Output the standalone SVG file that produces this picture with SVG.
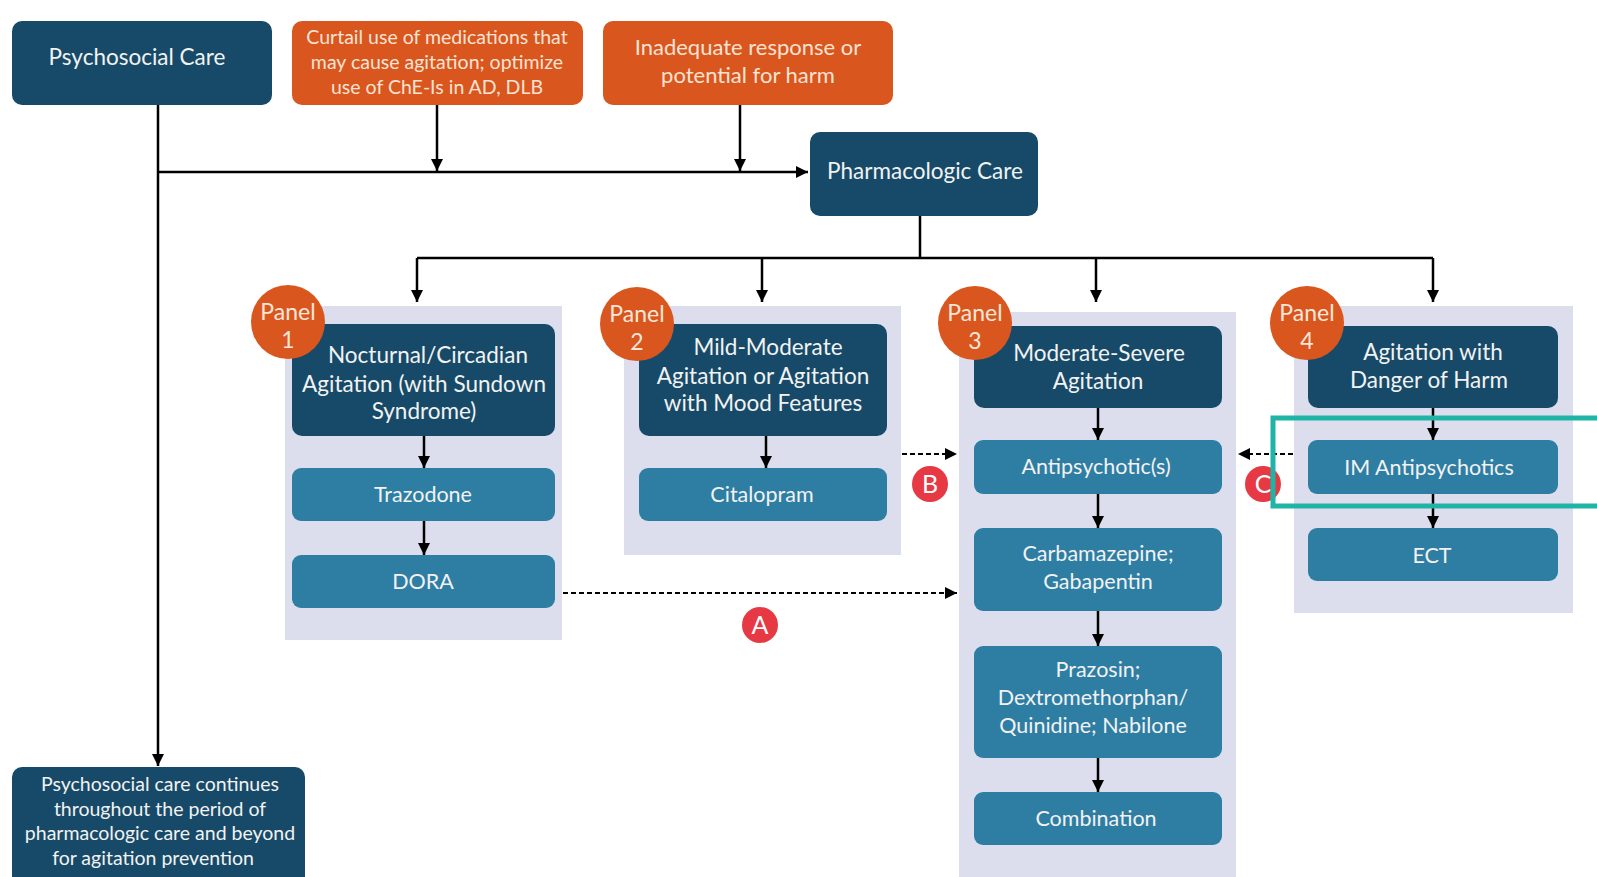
<svg xmlns="http://www.w3.org/2000/svg" width="1597" height="877" viewBox="0 0 1597 877">
<style>
.dark{fill:#174a68}
.mid{fill:#2e7ea4}
.org{fill:#d9561f}
.pbg{fill:#dcdeed}
.t{font-family:Lato,"Open Sans","Liberation Sans",sans-serif;fill:#f2f2f2;text-anchor:middle}
.to{font-family:Lato,"Open Sans","Liberation Sans",sans-serif;fill:#fde3d3;text-anchor:middle;font-size:19.5px}
.f20{font-size:22.5px}
.f19{font-size:21.5px}
.f22{font-size:22px}
.f17{font-size:19.5px}
.ln{stroke:#000;stroke-width:2.5;fill:none}
.ar{marker-end:url(#ah)}
.ds{stroke:#000;stroke-width:2;fill:none;stroke-dasharray:5 3;marker-end:url(#ah)}
.pc{fill:#d9561f}
.pt{font-family:Lato,"Open Sans","Liberation Sans",sans-serif;fill:#fbe6da;text-anchor:middle;font-size:23px}
.lc{fill:#e63943}
.lt{font-family:Lato,"Open Sans","Liberation Sans",sans-serif;fill:#fff;text-anchor:middle;font-size:25px}
</style>
<defs>
<marker id="ah" viewBox="0 0 10 10" refX="10" refY="5" markerWidth="12" markerHeight="12" markerUnits="userSpaceOnUse" orient="auto">
<path d="M0,0 L10,5 L0,10 z" fill="#000"/>
</marker>
</defs>
<rect width="1597" height="877" fill="#fff"/>

<g id="panel-backgrounds">
<rect class="pbg" x="285" y="306" width="277" height="334"/>
<rect class="pbg" x="624" y="306" width="277" height="249"/>
<rect class="pbg" x="959" y="312" width="277" height="570"/>
<rect class="pbg" x="1294" y="306" width="279" height="307"/>
</g>

<g id="connectors">
<path class="ln ar" d="M158,105 V766"/>
<path class="ln ar" d="M158,172 H808"/>
<path class="ln ar" d="M437,105 V171"/>
<path class="ln ar" d="M740,105 V171"/>
<path class="ln" d="M920,216 V258"/>
<path class="ln" d="M417,258 H1433"/>
<path class="ln ar" d="M417,258 V302"/>
<path class="ln ar" d="M762,258 V302"/>
<path class="ln ar" d="M1096,258 V302"/>
<path class="ln ar" d="M1433,258 V302"/>
<path class="ln ar" d="M424,436 V468"/>
<path class="ln ar" d="M424,521 V555"/>
<path class="ln ar" d="M766,436 V468"/>
<path class="ln ar" d="M1098,408 V440"/>
<path class="ln ar" d="M1098,494 V528"/>
<path class="ln ar" d="M1098,611 V646"/>
<path class="ln ar" d="M1098,758 V792"/>
<path class="ln ar" d="M1433,408 V440"/>
<path class="ln ar" d="M1433,494 V528"/>
<path class="ds" d="M563,593 H957"/>
<path class="ds" d="M902,454 H957"/>
<path class="ds" d="M1293,454 H1238"/>
</g>

<g id="psychosocial-care">
<rect class="dark" x="12" y="21" width="260" height="84" rx="10"/>
<text class="t f20" x="137" y="65">Psychosocial Care</text>
</g>
<g id="curtail">
<rect class="org" x="292" y="21" width="291" height="84" rx="10"/>
<text class="to" x="437" y="44">Curtail use of  medications that</text>
<text class="to" x="437" y="69">may cause agitation; optimize</text>
<text class="to" x="437" y="94">use of ChE-Is in AD, DLB</text>
</g>
<g id="inadequate">
<rect class="org" x="603" y="21" width="290" height="84" rx="10"/>
<text class="t f22" x="748" y="55" style="fill:#fde3d3">Inadequate response or</text>
<text class="t f22" x="748" y="83" style="fill:#fde3d3">potential for harm</text>
</g>
<g id="pharmacologic-care">
<rect class="dark" x="810" y="132" width="228" height="84" rx="10"/>
<text class="t f20" x="925" y="179">Pharmacologic  Care</text>
</g>

<g id="panel1-header">
<rect class="dark" x="292" y="324" width="263" height="112" rx="10"/>
<text class="t f20" x="428" y="363">Nocturnal/Circadian</text>
<text class="t f20" x="424" y="392">Agitation (with Sundown</text>
<text class="t f20" x="424" y="419">Syndrome)</text>
</g>
<g id="panel1-badge">
<circle class="pc" cx="288" cy="322" r="37"/>
<text class="pt" x="288" y="320">Panel</text>
<text class="pt" x="288" y="348">1</text>
</g>
<g id="trazodone">
<rect class="mid" x="292" y="468" width="263" height="53" rx="9"/>
<text class="t f19" x="423" y="502">Trazodone</text>
</g>
<g id="dora">
<rect class="mid" x="292" y="555" width="263" height="53" rx="9"/>
<text class="t f19" x="423" y="589">DORA</text>
</g>

<g id="panel2-header">
<rect class="dark" x="639" y="324" width="248" height="112" rx="10"/>
<text class="t f20" x="768" y="355">Mild-Moderate</text>
<text class="t f20" x="763" y="384">Agitation or Agitation</text>
<text class="t f20" x="763" y="411">with Mood Features</text>
</g>
<g id="panel2-badge">
<circle class="pc" cx="637" cy="324" r="37"/>
<text class="pt" x="637" y="322">Panel</text>
<text class="pt" x="637" y="350">2</text>
</g>
<g id="citalopram">
<rect class="mid" x="639" y="468" width="248" height="53" rx="9"/>
<text class="t f19" x="762" y="502">Citalopram</text>
</g>

<g id="panel3-header">
<rect class="dark" x="974" y="326" width="248" height="82" rx="10"/>
<text class="t f20" x="1099" y="361">Moderate-Severe</text>
<text class="t f20" x="1098" y="389">Agitation</text>
</g>
<g id="panel3-badge">
<circle class="pc" cx="975" cy="323" r="37"/>
<text class="pt" x="975" y="321">Panel</text>
<text class="pt" x="975" y="349">3</text>
</g>
<g id="antipsychotics">
<rect class="mid" x="974" y="440" width="248" height="54" rx="9"/>
<text class="t f19" x="1096" y="474">Antipsychotic(s)</text>
</g>
<g id="carbamazepine">
<rect class="mid" x="974" y="528" width="248" height="83" rx="9"/>
<text class="t f19" x="1098" y="561">Carbamazepine;</text>
<text class="t f19" x="1098" y="589">Gabapentin</text>
</g>
<g id="prazosin">
<rect class="mid" x="974" y="646" width="248" height="112" rx="9"/>
<text class="t f19" x="1098" y="677">Prazosin;</text>
<text class="t f19" x="1093" y="705">Dextromethorphan/</text>
<text class="t f19" x="1093" y="733">Quinidine; Nabilone</text>
</g>
<g id="combination">
<rect class="mid" x="974" y="792" width="248" height="53" rx="9"/>
<text class="t f19" x="1096" y="826">Combination</text>
</g>

<g id="panel4-header">
<rect class="dark" x="1308" y="326" width="250" height="82" rx="10"/>
<text class="t f20" x="1433" y="360">Agitation with</text>
<text class="t f20" x="1429" y="388">Danger of Harm</text>
</g>
<g id="panel4-badge">
<circle class="pc" cx="1307" cy="323" r="37"/>
<text class="pt" x="1307" y="321">Panel</text>
<text class="pt" x="1307" y="349">4</text>
</g>
<g id="im-antipsychotics">
<rect class="mid" x="1308" y="440" width="250" height="54" rx="9"/>
<text class="t f19" x="1429" y="475">IM Antipsychotics</text>
</g>
<g id="ect">
<rect class="mid" x="1308" y="528" width="250" height="53" rx="9"/>
<text class="t f19" x="1432" y="563">ECT</text>
</g>

<g id="label-a">
<circle class="lc" cx="760" cy="625" r="18"/>
<text class="lt" x="760" y="634">A</text>
</g>
<g id="label-b">
<circle class="lc" cx="930" cy="484" r="18"/>
<text class="lt" x="930" y="493">B</text>
</g>
<g id="label-c">
<circle class="lc" cx="1263" cy="484" r="18"/>
<text class="lt" x="1263" y="493">C</text>
</g>

<g id="highlight">
<rect x="1273" y="418" width="340" height="88" fill="none" stroke="#20b4a7" stroke-width="5"/>
</g>

<g id="psychosocial-continues">
<rect class="dark" x="12" y="767" width="293" height="125" rx="10"/>
<text class="t f17" x="160" y="791">Psychosocial care continues</text>
<text class="t f17" x="160" y="816">throughout the period of</text>
<text class="t f17" x="160" y="840">pharmacologic care and beyond</text>
<text class="t f17" x="153" y="865">for agitation prevention</text>
</g>
</svg>
